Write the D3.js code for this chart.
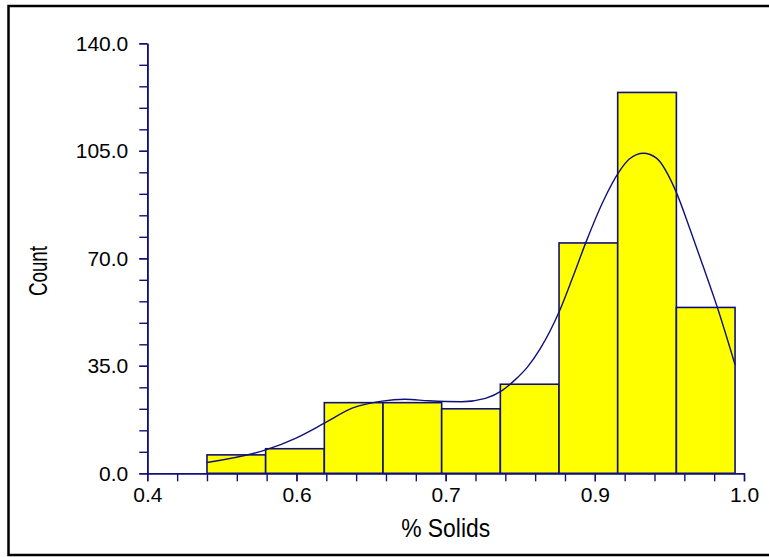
<!DOCTYPE html>
<html>
<head>
<meta charset="utf-8">
<script src="https://cdn.jsdelivr.net/npm/d3@7"></script>
<style>
  body { margin: 0; background: #fff; }
  svg text { font-family: Arial, "Liberation Sans", sans-serif; fill: #000; }
</style>
</head>
<body>
<div id="chart"></div>
<script>
// histogram of % solids with a smoothed density line on top
var binEdges = [0.460, 0.519, 0.578, 0.637, 0.696, 0.755, 0.814, 0.873, 0.932, 0.991];
var binCounts = [6, 8, 23, 23, 21, 29, 75, 124, 54];

// density curve
var curveX = [0.460, 0.519, 0.549, 0.578, 0.606, 0.636, 0.659, 0.683, 0.716, 0.740, 0.757, 0.770,
              0.782, 0.795, 0.814, 0.828, 0.842, 0.859, 0.874, 0.885, 0.899, 0.912, 0.931, 0.946,
              0.959, 0.973, 0.991];
var curveY = [3.5, 7.6, 11.4, 16.3, 21.2, 23.5, 24.1, 23.6, 23.3, 24.4, 27.0, 30.5,
              34.5, 40.5, 52.5, 64.0, 76.0, 89.0, 98.0, 102.4, 104.2, 102.6, 92.2, 79.2,
              67.3, 54.2, 35.3];

var xLabelTicks = [0.4, 0.55, 0.7, 0.85, 1.0];
var xLabelText = ["0.4", "0.6", "0.7", "0.9", "1.0"];
var yLabelTicks = [0, 35, 70, 105, 140];

var width = 769, height = 557;
var navy = "#10107a";

var svg = d3.select("#chart").append("svg")
    .attr("width", width)
    .attr("height", height);

//outer frame, runs off the right edge like the original
svg.append("rect")
    .attr("x", 8.5).attr("y", 6)
    .attr("width", 770).attr("height", 549)
    .attr("fill", "none")
    .attr("stroke", "#000")
    .attr("stroke-width", 2.5);

var x = d3.scaleLinear().domain([0.4, 1.0]).range([147.3, 744]);
var y = d3.scaleLinear().domain([0, 140]).range([473.3, 43.3]);

//bars
var bins = binCounts.map(function(c, i) { return {x0: binEdges[i], x1: binEdges[i + 1], n: c}; });
svg.append("g").selectAll("rect")
    .data(bins)
    .enter().append("rect")
    .attr("x", function(d) { return x(d.x0); })
    .attr("y", function(d) { return y(d.n); })
    .attr("width", function(d) { return x(d.x1) - x(d.x0); })
    .attr("height", function(d) { return y(0) - y(d.n); })
    .attr("fill", "#ffff00")
    .attr("stroke", navy)
    .attr("stroke-width", 1.6);

//density line
var line = d3.line()
    .x(function(d) { return x(d[0]); })
    .y(function(d) { return y(d[1]); })
    .curve(d3.curveMonotoneX);
svg.append("path")
    .datum(d3.zip(curveX, curveY))
    .attr("d", line)
    .attr("fill", "none")
    .attr("stroke", navy)
    .attr("stroke-width", 1.4);

//axes: minor ticks first, then labelled ones
var xMinor = d3.range(0, 21).map(function(i) { return 0.4 + i * 0.03; });
var yMinor = d3.range(0, 21).map(function(i) { return i * 7; });

function styleAxis(g) {
    g.select(".domain").attr("stroke", navy).attr("stroke-width", 1.6);
    g.selectAll(".tick line").attr("stroke", navy).attr("stroke-width", 1.4);
    g.selectAll(".tick text")
        .style("font-size", "21px")
        .style("font-family", "Arial, 'Liberation Sans', sans-serif")
        .attr("fill", "#000");
}

svg.append("g")
    .attr("transform", "translate(0," + y(0) + ")")
    .call(d3.axisBottom(x).tickValues(xMinor).tickSize(8).tickSizeOuter(0).tickFormat(""))
    .call(styleAxis);
svg.append("g")
    .attr("transform", "translate(0," + y(0) + ")")
    .call(d3.axisBottom(x).tickValues(xLabelTicks).tickSize(8).tickSizeOuter(0).tickPadding(6)
        .tickFormat(function(d, i) { return xLabelText[i]; }))
    .call(styleAxis);

svg.append("g")
    .attr("transform", "translate(" + x(0.4) + ",0)")
    .call(d3.axisLeft(y).tickValues(yMinor).tickSize(8).tickSizeOuter(0).tickFormat(""))
    .call(styleAxis);
svg.append("g")
    .attr("transform", "translate(" + x(0.4) + ",0)")
    .call(d3.axisLeft(y).tickValues(yLabelTicks).tickSize(8).tickSizeOuter(0).tickPadding(11)
        .tickFormat(d3.format(".1f")))
    .call(styleAxis);

//axis titles
svg.append("text")
    .attr("x", (x(0.4) + x(1.0)) / 2)
    .attr("y", 537)
    .attr("text-anchor", "middle")
    .attr("textLength", 89)
    .attr("lengthAdjust", "spacingAndGlyphs")
    .style("font-size", "25px")
    .text("% Solids");

svg.append("text")
    .attr("transform", "translate(47," + 271 + ") rotate(-90)")
    .attr("text-anchor", "middle")
    .attr("textLength", 50)
    .attr("lengthAdjust", "spacingAndGlyphs")
    .style("font-size", "25px")
    .text("Count");
</script>
</body>
</html>
